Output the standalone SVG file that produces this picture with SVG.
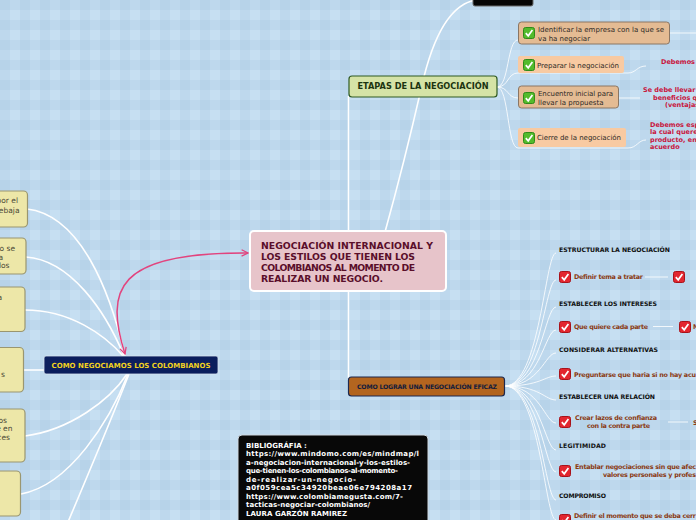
<svg xmlns="http://www.w3.org/2000/svg" width="696" height="520" viewBox="0 0 696 520">
<defs>
<pattern id="bg" width="20" height="20" patternUnits="userSpaceOnUse">
<rect width="20" height="20" fill="#c6dff2"/>
<rect width="10" height="20" fill="#9fbfd8" opacity="0.22"/>
<rect width="20" height="10" fill="#9fbfd8" opacity="0.22"/>
</pattern>
<marker id="pk" viewBox="0 0 10 10" refX="9" refY="5" markerWidth="8" markerHeight="8" orient="auto-start-reverse" markerUnits="userSpaceOnUse">
<path d="M1 1 L9 5 L1 9" fill="none" stroke="#e2447e" stroke-width="1.6"/>
</marker>
<symbol id="gchk" viewBox="0 0 12 12">
<rect x="0.5" y="0.5" width="11" height="11" rx="2" fill="#52bb2c" stroke="#2f8a1a"/>
<path d="M2.8 6.2 L5.2 8.8 L9.4 3" fill="none" stroke="#fff" stroke-width="1.7"/>
</symbol>
<symbol id="rchk" viewBox="0 0 12 12">
<rect x="0.5" y="0.5" width="11" height="11" rx="2" fill="#e2262f" stroke="#a8121a"/>
<path d="M2.8 6.2 L5.2 8.8 L9.4 3" fill="none" stroke="#fff" stroke-width="1.7"/>
</symbol>
</defs>
<style>
text{font-family:"DejaVu Sans","Verdana",sans-serif}
.w{fill:none;stroke:#ffffff;stroke-width:1.6}
.wt{fill:none;stroke:#ffffff;stroke-width:0.9;opacity:0.9}
.ln{fill:#ede7a8;stroke:#9a9670;stroke-width:1.2}
.lt{font-size:7.5px;fill:#4a4836;text-anchor:end}
.tan{fill:#e4bb93;stroke:#8a7664;stroke-width:1}
.pch{fill:#f8caa2}
.et{font-size:7px;fill:#2e2a26}
.rd{font-size:6.5px;font-weight:bold;fill:#c8143c}
.hd{font-size:6.2px;font-weight:bold;fill:#111}
.br{font-size:6.4px;font-weight:bold;fill:#8a3a12}
.bib{font-size:7px;font-weight:bold;fill:#fff}
</style>
<rect width="696" height="520" fill="url(#bg)"/>

<g id="connectors">
<path class="w" d="M348.5 96 L348.5 378"/>
<path class="w" d="M385 232 C405 160 414 120 422 85 S445 5 476 0"/>
<path class="w" d="M27 209 C80 215 110 290 125 356"/>
<path class="w" d="M26 257 C70 260 105 310 124 356"/>
<path class="w" d="M25 310 C70 310 105 335 123 356"/>
<path class="w" d="M23 370 L44 370"/>
<path class="w" d="M25 436 C70 430 110 400 127 374"/>
<path class="w" d="M21 494 C70 485 110 420 128 374"/>
<path class="w" d="M68 522 C90 470 115 410 129 374"/>
<path d="M125 354 C105 290 115 252 248 253" fill="none" stroke="#e2447e" stroke-width="1.5" marker-start="url(#pk)" marker-end="url(#pk)"/>
<path class="wt" d="M497 87 C509 87 507 40 518 40"/>
<path class="wt" d="M497 87 C509 87 507 73 518 73"/>
<path class="wt" d="M497 87 C509 87 507 98 518 98"/>
<path class="wt" d="M497 87 C509 87 507 148 518 148"/>
<path class="wt" d="M669 33 L696 33"/>
<path class="wt" d="M518 73 L628 73 C636 73 637 66 646 66"/>
<path class="wt" d="M618 98 L640 98"/>
<path class="wt" d="M518 148 L628 148 C637 148 638 140 646 140"/>
<path class="wt" d="M505 386 C540 386 545 253 556 253"/>
<path class="wt" d="M505 386 C540 386 545 280 556 280"/>
<path class="wt" d="M505 386 C540 386 545 307 556 307"/>
<path class="wt" d="M505 386 C540 386 545 330 556 330"/>
<path class="wt" d="M505 386 C540 386 545 353 556 353"/>
<path class="wt" d="M505 386 C540 386 545 376 556 376"/>
<path class="wt" d="M505 386 C540 386 545 400 556 400"/>
<path class="wt" d="M505 386 C540 386 545 423 556 423"/>
<path class="wt" d="M505 386 C540 386 545 450 556 450"/>
<path class="wt" d="M505 386 C540 386 545 472 556 472"/>
<path class="wt" d="M505 386 C540 386 545 500 556 500"/>
<path class="wt" d="M505 386 C540 386 545 520 556 520"/>
<path class="wt" d="M645 277 L668 277"/>
<path class="wt" d="M653 326.5 L673 326.5"/>
<path class="wt" d="M668 422 L688 422"/>
</g>

<g id="central">
<rect x="250" y="231" width="196" height="60" rx="4" fill="#e7c4ca" stroke="#ffffff" stroke-width="2"/>
<g font-size="9.3" font-weight="bold" fill="#5a0e2a">
<text x="261" y="248.5" textLength="172">NEGOCIACIÓN INTERNACIONAL Y</text>
<text x="261" y="259.5" textLength="154">LOS ESTILOS QUE TIENEN LOS</text>
<text x="261" y="270.5" textLength="154">COLOMBIANOS AL MOMENTO DE</text>
<text x="261" y="281.5" textLength="122">REALIZAR UN NEGOCIO.</text>
</g>
</g>

<g id="top-node">
<rect x="473" y="-6" width="60" height="12" rx="2" fill="#050505" stroke="#6a6a6a" stroke-width="1"/>
</g>

<g id="etapas">
<rect x="349" y="76" width="148" height="21" rx="3" fill="#d5e3a6" stroke="#2f5a22" stroke-width="1.2"/>
<text x="423" y="89.3" font-size="8.2" font-weight="bold" fill="#1c3410" text-anchor="middle" textLength="131">ETAPAS DE LA NEGOCIACIÓN</text>
</g>

<g id="etapa-1">
<rect class="tan" x="518.5" y="22" width="151" height="22" rx="3"/>
<use href="#gchk" x="523" y="27" width="12" height="12"/>
<text class="et" x="538" y="31.5" textLength="126">Identificar la empresa con la que se</text>
<text class="et" x="538" y="40.5">va ha negociar</text>
</g>
<g id="etapa-2">
<rect class="pch" x="518" y="56" width="106" height="17" rx="2"/>
<use href="#gchk" x="523" y="59" width="12" height="12"/>
<text class="et" x="537" y="68" textLength="82">Preparar la negociación</text>
</g>
<g id="etapa-3">
<rect class="tan" x="518.5" y="86" width="100" height="22" rx="3"/>
<use href="#gchk" x="523" y="92" width="12" height="12"/>
<text class="et" x="538" y="96" textLength="75">Encuentro inicial para</text>
<text class="et" x="538" y="104.5">llevar la propuesta</text>
</g>
<g id="etapa-4">
<rect class="pch" x="518" y="128" width="108" height="19" rx="2"/>
<use href="#gchk" x="523" y="132" width="12" height="12"/>
<text class="et" x="537" y="140" textLength="84">Cierre de la negociación</text>
</g>

<g id="etapa-notes">
<text class="rd" x="661" y="64">Debemos t</text>
<text class="rd" x="643" y="92">Se debe llevar u</text>
<text class="rd" x="653" y="99.5">beneficios qu</text>
<text class="rd" x="665" y="107">(ventajas</text>
<text class="rd" x="650" y="126.5">Debemos esp</text>
<text class="rd" x="650" y="134">la cual queren</text>
<text class="rd" x="650" y="141.5">producto, ent</text>
<text class="rd" x="650" y="149">acuerdo</text>
</g>

<g id="como-lograr">
<rect x="348.5" y="377" width="156" height="19" rx="3" fill="#b3651f" stroke="#1c2850" stroke-width="1.2"/>
<text x="427" y="389.3" font-size="6.2" font-weight="bold" fill="#141c3c" text-anchor="middle" textLength="140">COMO LOGRAR UNA NEGOCIACIÓN EFICAZ</text>
</g>

<g id="eficaz-items">
<text class="hd" x="559" y="252" textLength="111">ESTRUCTURAR LA NEGOCIACIÓN</text>
<use href="#rchk" x="559" y="271" width="12" height="12"/>
<text class="br" x="574" y="279" textLength="69">Definir tema a tratar</text>
<use href="#rchk" x="673" y="271" width="12" height="12"/>
<text class="hd" x="559" y="306" textLength="98">ESTABLECER LOS INTERESES</text>
<use href="#rchk" x="559" y="321" width="12" height="12"/>
<text class="br" x="574" y="329" textLength="74">Que quiere cada parte</text>
<use href="#rchk" x="679" y="321" width="12" height="12"/>
<text class="br" x="693" y="329">M</text>
<text class="hd" x="559" y="352" textLength="99">CONSIDERAR ALTERNATIVAS</text>
<use href="#rchk" x="559" y="368" width="12" height="12"/>
<text class="br" x="574" y="376.5" textLength="122">Preguntarse que haria si no hay acu</text>
<text class="hd" x="559" y="398.5" textLength="96">ESTABLECER UNA RELACIÓN</text>
<use href="#rchk" x="559" y="416" width="12" height="12"/>
<text class="br" x="616" y="420" text-anchor="middle" textLength="82">Crear lazos de confianza</text>
<text class="br" x="618.5" y="427.5" text-anchor="middle" textLength="63">con la contra parte</text>
<text class="br" x="693" y="424.5">S</text>
<text class="hd" x="559" y="448" textLength="47">LEGITIMIDAD</text>
<use href="#rchk" x="559" y="465" width="12" height="12"/>
<text class="br" x="575" y="469" textLength="121">Entablar negociaciones sin que afec</text>
<text class="br" x="603" y="477" textLength="93">valores personales y profes</text>
<text class="hd" x="559" y="498" textLength="47">COMPROMISO</text>
<use href="#rchk" x="559" y="514" width="12" height="12"/>
<text class="br" x="574" y="518" textLength="122">Definir el momento que se deba cerr</text>
</g>

<g id="como-negociamos">
<rect x="44" y="356" width="174" height="18" rx="2" fill="#0c1f5e" stroke="#d8e4f0" stroke-width="0.8"/>
<text x="131" y="367.7" font-size="7" font-weight="bold" fill="#f2d21e" text-anchor="middle" textLength="159">COMO NEGOCIAMOS LOS COLOMBIANOS</text>
</g>

<g id="left-a">
<rect class="ln" x="-6" y="191" width="33.5" height="36" rx="4"/>
<text class="lt" x="18" y="203">por el</text>
<text class="lt" x="19.5" y="212.5">rebaja</text>
</g>
<g id="left-b">
<rect class="ln" x="-6" y="238" width="32" height="36" rx="4"/>
<text class="lt" x="15" y="251">o se</text>
<text class="lt" x="3" y="259.5">a</text>
<text class="lt" x="9.5" y="268">llos</text>
</g>
<g id="left-c">
<rect class="ln" x="-6" y="287" width="31" height="44.5" rx="4"/>
<text class="lt" x="2" y="299.5">a</text>
</g>
<g id="left-d">
<rect class="ln" x="-6" y="347.5" width="29.5" height="44.5" rx="4"/>
<text class="lt" x="5" y="377">s</text>
</g>
<g id="left-e">
<rect class="ln" x="-6" y="409" width="31" height="53" rx="4"/>
<text class="lt" x="7" y="423">os</text>
<text class="lt" x="12.5" y="431">e en</text>
<text class="lt" x="10" y="439.5">ces</text>
</g>
<g id="left-f">
<rect class="ln" x="-6" y="471" width="26.5" height="45" rx="4"/>
</g>

<g id="bibliografia">
<rect x="238" y="435" width="190" height="92" rx="4" fill="#080808" stroke="#cfd8e0" stroke-width="1"/>
<text class="bib" x="246" y="447.5">BIBLIOGRÁFIA :</text>
<text class="bib" x="246" y="456" textLength="173">https://www.mindomo.com/es/mindmap/l</text>
<text class="bib" x="246" y="464.5" textLength="164">a-negociacion-internacional-y-los-estilos-</text>
<text class="bib" x="246" y="473" textLength="152">que-tienen-los-colombianos-al-momento-</text>
<text class="bib" x="246" y="481.5" textLength="110">de-realizar-un-negocio-</text>
<text class="bib" x="246" y="490" textLength="166">a0f059cea5c34920beae06e794208a17</text>
<text class="bib" x="246" y="498.5" textLength="157">https://www.colombiamegusta.com/7-</text>
<text class="bib" x="246" y="507" textLength="124">tacticas-negociar-colombianos/</text>
<text class="bib" x="246" y="515.5" textLength="101">LAURA GARZÓN RAMIREZ</text>
</g>
</svg>
